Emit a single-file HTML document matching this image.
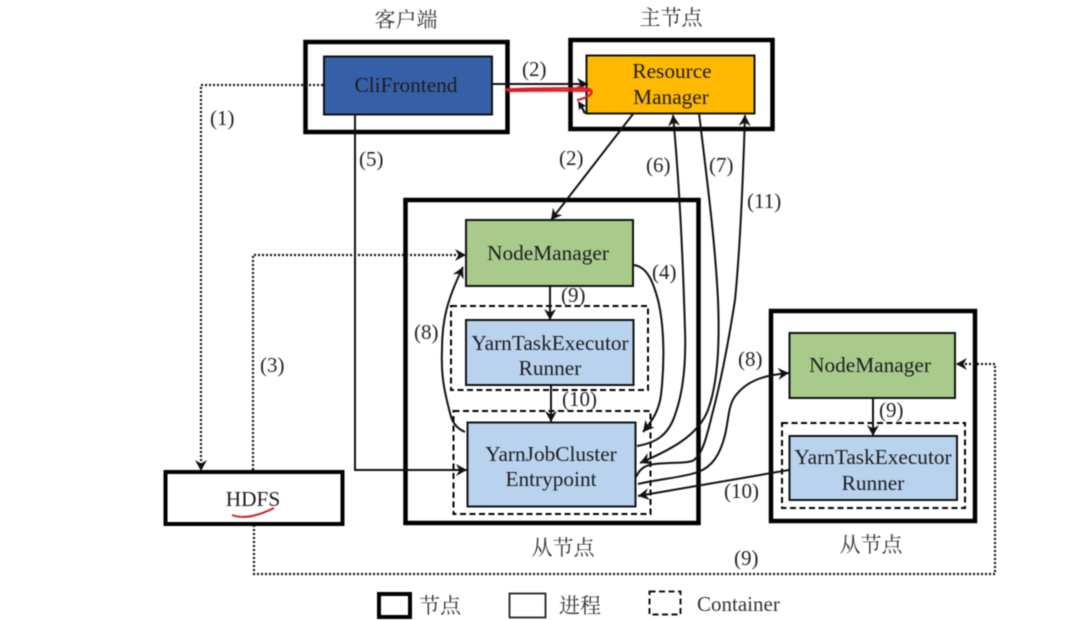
<!DOCTYPE html>
<html><head><meta charset="utf-8"><style>
html,body{margin:0;padding:0;background:#fff;overflow:hidden}
svg{display:block;filter:blur(.45px)}
text{font-family:"Liberation Serif","Noto Serif CJK SC",serif;fill:#1c1c1c;font-size:21.300px}
.m{text-anchor:middle}
.zh{font-size:21px;fill:#333;text-anchor:middle}
.l{font-size:21px;fill:#222}
</style></head><body>
<svg width="1081" height="620" viewBox="0 0 1081 620" xmlns="http://www.w3.org/2000/svg">
<defs>
<marker id="a" markerWidth="16" markerHeight="14" refX="12" refY="7" orient="auto" markerUnits="userSpaceOnUse"><path d="M1 1L12 7L1 13L4.500 7Z" fill="#111"/></marker>
</defs>
<rect width="1081" height="620" fill="#fff"/>
<g fill="none" stroke="#000">
<rect x="305.500" y="42" width="202" height="90" stroke-width="4.500"/>
<rect x="570.500" y="40" width="202" height="89" stroke-width="4.500"/>
<rect x="405.500" y="200" width="293" height="323" stroke-width="4.500"/>
<rect x="771" y="311" width="204" height="210" stroke-width="4.500"/>
<rect x="165.500" y="472" width="177" height="52" stroke-width="4"/>
<rect x="451" y="306" width="197" height="84" stroke-width="2" stroke-dasharray="6 3.500"/>
<rect x="453.500" y="411" width="197" height="103" stroke-width="2" stroke-dasharray="6 3.500"/>
<rect x="782" y="423" width="183" height="85" stroke-width="2" stroke-dasharray="6 3.500"/>
</g>
<g stroke="#111" stroke-width="2">
<rect x="324" y="56.500" width="168" height="58" fill="#3560a8"/>
<rect x="586.500" y="55.500" width="168" height="58" fill="#ffb900"/>
<rect x="466" y="220" width="167" height="66" fill="#a8cb8c"/>
<rect x="466" y="320" width="167.500" height="65" fill="#b9d3ee"/>
<rect x="467.500" y="422.500" width="168" height="84" fill="#b9d3ee"/>
<rect x="789.500" y="333" width="165.500" height="65" fill="#a8cb8c"/>
<rect x="789.500" y="436" width="167.500" height="64" fill="#b9d3ee"/>
</g>
<g fill="none" stroke="#111" stroke-width="2">
<path d="M492 84H588" marker-end="url(#a)"/>
<path d="M355 115V470H467" marker-end="url(#a)"/>
<path d="M633 114L551 220" marker-end="url(#a)"/>
<path d="M550 286V320" marker-end="url(#a)"/>
<path d="M551 385V422" marker-end="url(#a)"/>
<path d="M873 398V436" marker-end="url(#a)"/>
<path d="M633 265C648 266 654 285 658 300C664 325 665 360 661 395C659 410 653 420 643 432" marker-end="url(#a)"/>
<path d="M465 432C456 428 452 422 450 413C444 390 441 375 442 350C442 320 447 300 463 267" marker-end="url(#a)"/>
<path d="M637 446C655 443 668 436 675 415C684 390 686 360 685 330C683 260 680 190 673 115" marker-end="url(#a)"/>
<path d="M699 113C707 180 715 240 718 300C720 350 717 385 708 410C698 436 670 450 640 463" marker-end="url(#a)"/>
<path d="M636 477C640 468 646 465 655 464C670 462 688 464 694 460C702 454 706 440 712 415C720 385 728 345 735 300C740 250 743 180 745 115" marker-end="url(#a)"/>
<path d="M638 484C660 479 685 477 698 472C712 467 720 455 725 435C729 418 728 405 736 395C748 380 765 375 789 373" marker-end="url(#a)"/>
<path d="M789 470L638 496" marker-end="url(#a)"/>
</g>
<g fill="none" stroke="#111" stroke-width="2.200" stroke-dasharray="2 2">
<path d="M323 85H201V471" marker-end="url(#a)"/>
<path d="M253 470V255H466" marker-end="url(#a)"/>
<path d="M254 525V574H995V364H956" marker-end="url(#a)"/>
</g>
<path d="M505 89.500C530 88.500 565 88 586 88.500C592 89 593 92 590 95C586 98 582 99 577 100M507 91C530 91 560 90 590 91M577 87C582 88 587 88 590 90" fill="none" stroke="#d8202a" stroke-width="2.200"/>
<path d="M578 101L579 110L581 108L584 114L586 113L583 107L586 106Z" fill="#111"/>
<path d="M232 515C245 520 262 514 274 508" fill="none" stroke="#c8202a" stroke-width="2"/>
<text class="zh" x="406" y="27">客户端</text>
<text class="zh" x="671" y="25">主节点</text>
<text class="zh" x="563" y="555">从节点</text>
<text class="zh" x="871" y="552">从节点</text>
<text class="m" x="406" y="92">CliFrontend</text>
<text class="m" x="672" y="78">Resource</text>
<text class="m" x="671" y="104">Manager</text>
<text class="m" x="548" y="260">NodeManager</text>
<text class="m" x="550" y="350">YarnTaskExecutor</text>
<text class="m" x="550" y="375">Runner</text>
<text class="m" x="551" y="461">YarnJobCluster</text>
<text class="m" x="551" y="486">Entrypoint</text>
<text class="m" x="870" y="372">NodeManager</text>
<text class="m" x="873" y="464">YarnTaskExecutor</text>
<text class="m" x="873" y="490">Runner</text>
<text class="m" x="253" y="506">HDFS</text>
<text class="l" x="210" y="125">(1)</text>
<text class="l" x="522" y="76">(2)</text>
<text class="l" x="559" y="165">(2)</text>
<text class="l" x="260" y="372">(3)</text>
<text class="l" x="652" y="279">(4)</text>
<text class="l" x="359" y="166">(5)</text>
<text class="l" x="646" y="172">(6)</text>
<text class="l" x="709" y="172">(7)</text>
<text class="l" x="414" y="339">(8)</text>
<text class="l" x="738" y="366">(8)</text>
<text class="l" x="561" y="302">(9)</text>
<text class="l" x="879" y="417">(9)</text>
<text class="l" x="734" y="565">(9)</text>
<text class="l" x="562" y="406">(10)</text>
<text class="l" x="724" y="498">(10)</text>
<text class="l" x="747" y="208">(11)</text>
<rect x="379" y="594" width="31" height="23" fill="none" stroke="#000" stroke-width="4"/>
<rect x="509.500" y="593.500" width="36" height="24" fill="none" stroke="#222" stroke-width="1.800"/>
<rect x="649.500" y="591.500" width="31" height="23" fill="none" stroke="#111" stroke-width="2" stroke-dasharray="6 3.500"/>
<text class="zh" x="440" y="613">节点</text>
<text class="zh" x="580" y="613">进程</text>
<text x="697" y="611" style="font-size:21px;fill:#333">Container</text>
</svg>
</body></html>
